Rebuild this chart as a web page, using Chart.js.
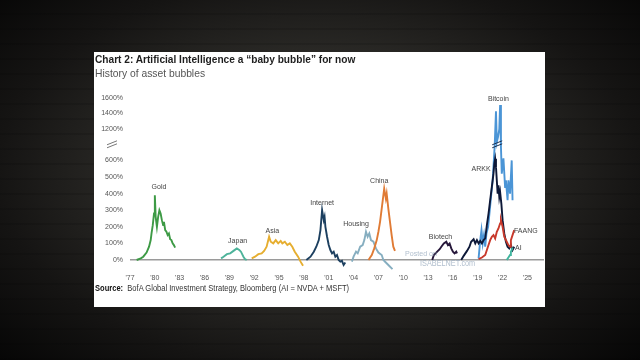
<!DOCTYPE html>
<html>
<head>
<meta charset="utf-8">
<script src="https://cdn.jsdelivr.net/npm/chart.js@4.4.1/dist/chart.umd.min.js"></script>
<style>
html, body { margin: 0; padding: 0; }
body {
    width: 640px; height: 360px; overflow: hidden; position: relative;
    background:
        repeating-linear-gradient(0deg, rgba(0,0,0,0.12) 0 2px, transparent 2px 15px),
        radial-gradient(ellipse 72% 78% at 50% 48%, #3a3835 0%, #2a2926 42%, #151413 70%, #040404 100%);
}
#panel { position: absolute; left: 94px; top: 52px; width: 451px; height: 255px; background: #fff; }
#chart { position: absolute; left: 0; top: 0; }
.txt { position: absolute; white-space: nowrap; transform-origin: 0 50%; font-family: 'Liberation Sans', Arial, sans-serif; }
#title { left: 95px; top: 53px; font-size: 11.5px; line-height: 12px; font-weight: bold; color: #1e1e1e; }
#subtitle { left: 95px; top: 67px; font-size: 10.5px; line-height: 12px; color: #555; }
#source { left: 95px; top: 283px; font-size: 8.5px; line-height: 10px; color: #333; }
#source b { color: #111; }
.mark { color: rgba(150, 168, 188, 0.75); font-size: 8px; line-height: 9px; }
</style>
</head>
<body>
<div id="panel"></div>
<canvas id="chart" width="640" height="360"></canvas>
<div class="txt" id="title">Chart 2: Artificial Intelligence a “baby bubble” for now</div>
<div class="txt" id="subtitle">History of asset bubbles</div>
<div class="txt" id="source"><b>Source:</b>&nbsp; BofA Global Investment Strategy, Bloomberg (AI = NVDA + MSFT)</div>
<div class="txt mark" id="posted" style="left:405px; top:249px;">Posted on</div>
<div class="txt mark" id="isabel" style="left:420px; top:259px; font-size:8.5px;">ISABELNET.com</div>
<script>
// Bubble series: years and % gain
const goldYears = [1977.8, 1978.3, 1978.6, 1979.0, 1979.3, 1979.5, 1979.6, 1979.75, 1979.9, 1980.0, 1980.1, 1980.25, 1980.4, 1980.55, 1980.7, 1980.85, 1981.0, 1981.1, 1981.25, 1981.4, 1981.55, 1981.7, 1981.85, 1982.0, 1982.15, 1982.3, 1982.45];
const goldValues = [0, 10, 20, 45, 80, 120, 160, 210, 280, 390, 260, 200, 260, 300, 280, 240, 210, 230, 180, 170, 150, 160, 125, 120, 100, 90, 75];

const japanYears = [1988.0, 1988.3, 1988.7, 1989.1, 1989.5, 1989.9, 1990.2, 1990.4, 1990.7, 1990.9, 1991.1];
const japanValues = [10, 20, 35, 40, 55, 70, 60, 50, 20, 5, 0];

const asiaYears = [1991.7, 1992.1, 1992.5, 1992.9, 1993.2, 1993.5, 1993.7, 1993.8, 1994.0, 1994.3, 1994.6, 1994.9, 1995.2, 1995.4, 1995.7, 1996.0, 1996.3, 1996.6, 1996.9, 1997.3, 1997.6, 1997.9];
const asiaValues = [10, 20, 35, 40, 55, 80, 120, 140, 110, 100, 120, 100, 115, 100, 110, 90, 100, 80, 50, 20, -10, -35];

const internetYears = [1998.3, 1998.8, 1999.2, 1999.5, 1999.8, 2000.0, 2000.1, 2000.2, 2000.4, 2000.5, 2000.6, 2000.8, 2001.0, 2001.2, 2001.4, 2001.6, 2001.8, 2002.0, 2002.2, 2002.4, 2002.6, 2002.8, 2003.0];
const internetValues = [0, 20, 50, 80, 120, 180, 240, 300, 240, 260, 200, 140, 90, 60, 40, 50, 20, 30, 0, -10, -5, -30, -15];

const housingYears = [2003.8, 2004.0, 2004.3, 2004.5, 2004.8, 2005.1, 2005.3, 2005.5, 2005.7, 2005.9, 2006.1, 2006.4, 2006.7, 2007.0, 2007.4, 2007.6, 2007.9, 2008.2, 2008.7];
const housingValues = [-10, 20, 50, 40, 80, 90, 120, 170, 140, 160, 120, 110, 70, 45, 30, 0, -15, -30, -55];

const chinaYears = [2005.8, 2006.2, 2006.5, 2006.8, 2007.0, 2007.2, 2007.4, 2007.6, 2007.7, 2007.9, 2008.0, 2008.2, 2008.4, 2008.6, 2008.8, 2009.0];
const chinaValues = [0, 30, 70, 120, 170, 230, 310, 390, 430, 370, 400, 310, 230, 150, 80, 55];

const biotechYears = [2013.5, 2013.7, 2014.1, 2014.4, 2014.6, 2014.9, 2015.2, 2015.4, 2015.6, 2015.8, 2016.0, 2016.2, 2016.4, 2016.5];
const biotechValues = [0, 30, 50, 65, 80, 100, 110, 90, 100, 70, 50, 40, 50, 40];

const arkkYears = [2017.0, 2017.3, 2017.7, 2018.0, 2018.2, 2018.5, 2018.7, 2018.9, 2019.1, 2019.3, 2019.5, 2019.7, 2019.9, 2020.1, 2020.3, 2020.5, 2020.7, 2020.9, 2021.0, 2021.1, 2021.2, 2021.3, 2021.4, 2021.5, 2021.6, 2021.7, 2021.85, 2022.0, 2022.2, 2022.4, 2022.6, 2022.8, 2023.0, 2023.2, 2023.4];
const arkkValues = [0, 25, 55, 80, 110, 125, 100, 120, 100, 115, 100, 120, 130, 210, 280, 360, 440, 520, 580, 630, 560, 480, 400, 450, 380, 410, 340, 240, 160, 110, 80, 70, 90, 60, 80];

const bitcoinYears = [2019.1, 2019.3, 2019.45, 2019.6, 2019.75, 2019.9, 2020.05, 2020.25, 2020.45, 2020.6, 2020.8, 2020.95, 2021.05, 2021.2, 2021.3, 2021.45, 2021.6, 2021.7, 2021.8, 2021.9, 2022.1, 2022.3, 2022.4, 2022.6, 2022.7, 2022.9, 2023.1, 2023.2];
const bitcoinValues = [10, 120, 180, 100, 150, 80, 160, 200, 300, 380, 480, 620, 900, 1430, 950, 1050, 1200, 1510, 860, 520, 640, 440, 480, 360, 480, 400, 600, 360];

const faangYears = [2019.1, 2019.5, 2019.9, 2020.1, 2020.3, 2020.5, 2020.7, 2020.9, 2021.1, 2021.3, 2021.5, 2021.7, 2021.8, 2022.0, 2022.2, 2022.5, 2022.7, 2022.9, 2023.0, 2023.2, 2023.4];
const faangValues = [5, 15, 30, 60, 90, 120, 140, 150, 130, 170, 190, 220, 240, 200, 140, 110, 90, 80, 120, 150, 180];

const aiYears = [2022.5, 2022.7, 2022.9, 2023.0, 2023.1, 2023.2];
const aiValues = [0, 15, 30, 50, 60, 75];

// Axis ticks
const xTickYears = [1977, 1980, 1983, 1986, 1989, 1992, 1995, 1998, 2001, 2004, 2007, 2010, 2013, 2016, 2019, 2022, 2025];
const yTickValues = [0, 100, 200, 300, 400, 500, 600, 1200, 1400, 1600];

// Bubble name labels, placed in chart units (year, %)
const bubbleNames = ['Gold', 'Japan', 'Asia', 'Internet', 'Housing', 'China', 'Biotech', 'ARKK', 'Bitcoin', 'FAANG', 'AI'];
const labelYears = [1980.5, 1990.0, 1994.2, 2000.2, 2004.3, 2007.1, 2014.5, 2019.4, 2021.5, 2024.8, 2023.9];
const labelValues = [440, 113, 173, 345, 217, 476, 140, 546, 1590, 177, 70];

// Broken y axis: 0-600% full scale, 600-1200% squeezed through the break, 1200%+ compressed
function toDisplay(v) {
    if (v <= 600) return v / 100;
    if (v <= 1200) return 6 + (v - 600) / 600 * 1.89;
    return 7.89 + (v - 1200) * 0.004675;
}
const BREAK_AT = 7.0;

function series(label, years, values, color) {
    return {
        label: label,
        data: years.map((x, i) => ({ x: x, y: toDisplay(values[i]) })),
        borderColor: color,
        borderWidth: 1.9,
        pointRadius: 0,
        tension: 0,
        clip: false
    };
}

const labelPlugin = {
    id: 'bubbleLabels',
    afterDatasetsDraw(chart) {
        const ctx = chart.ctx;
        const xs = chart.scales.x, ys = chart.scales.y;
        ctx.save();
        ctx.font = '7px "Liberation Sans", Arial, sans-serif';
        ctx.fillStyle = '#444';
        ctx.textAlign = 'center';
        ctx.textBaseline = 'middle';
        bubbleNames.forEach((name, i) => {
            ctx.fillText(name, xs.getPixelForValue(labelYears[i]), ys.getPixelForValue(toDisplay(labelValues[i])));
        });

        // axis break marks, and the same marks across the Bitcoin spike
        const yb = ys.getPixelForValue(BREAK_AT);
        const drawBreak = (cx, color) => {
            ctx.strokeStyle = color;
            ctx.lineWidth = 1;
            ctx.beginPath();
            ctx.moveTo(cx - 5, yb + 1); ctx.lineTo(cx + 5, yb - 3);
            ctx.moveTo(cx - 5, yb + 4); ctx.lineTo(cx + 5, yb);
            ctx.stroke();
        };
        drawBreak(xs.left - 18, '#777');
        drawBreak(xs.getPixelForValue(2021.35), '#1c3050');
        ctx.restore();
    }
};

new Chart(document.getElementById('chart'), {
    type: 'line',
    data: {
        datasets: [
            series('AI', aiYears, aiValues, '#3fb59e'),
            series('FAANG', faangYears, faangValues, '#c8392b'),
            series('ARKK', arkkYears, arkkValues, '#0d1838'),
            series('Bitcoin', bitcoinYears, bitcoinValues, '#4b95d6'),
            series('Biotech', biotechYears, biotechValues, '#26173a'),
            series('China', chinaYears, chinaValues, '#e07b35'),
            series('Housing', housingYears, housingValues, '#86aec0'),
            series('Internet', internetYears, internetValues, '#1c3f5f'),
            series('Asia', asiaYears, asiaValues, '#e6ae30'),
            series('Japan', japanYears, japanValues, '#4db39a'),
            series('Gold', goldYears, goldValues, '#3d9a45')
        ]
    },
    options: {
        responsive: false,
        animation: false,
        layout: { padding: { left: 94, right: 96, top: 94, bottom: 75.85 } },
        plugins: {
            legend: { display: false },
            tooltip: { enabled: false }
        },
        scales: {
            x: {
                type: 'linear',
                min: 1977,
                max: 2027,
                afterBuildTicks: s => { s.ticks = xTickYears.map(v => ({ value: v })); },
                afterFit: s => { s.height = 20; },
                ticks: {
                    autoSkip: false,
                    maxRotation: 0,
                    padding: 2,
                    color: '#555',
                    font: { family: '"Liberation Sans", Arial, sans-serif', size: 7 },
                    callback: v => "'" + String(v).slice(2)
                },
                grid: { display: false },
                border: { display: false }
            },
            y: {
                min: -0.25,
                max: 10,
                afterBuildTicks: s => { s.ticks = yTickValues.map(v => ({ value: toDisplay(v) })); },
                afterFit: s => { s.width = 36; },
                ticks: {
                    autoSkip: false,
                    padding: 7,
                    color: '#555',
                    font: { family: '"Liberation Sans", Arial, sans-serif', size: 7 },
                    callback: (v, i) => yTickValues[i] + '%'
                },
                grid: {
                    drawTicks: false,
                    lineWidth: 1.5,
                    color: c => (c.tick && c.tick.value === 0) ? '#9a9a9a' : 'transparent'
                },
                border: { display: false }
            }
        }
    },
    plugins: [labelPlugin]
});

// squeeze the condensed-looking headings to the widths in the picture
function fitText(id, width) {
    const el = document.getElementById(id);
    el.style.transform = 'scaleX(' + (width / el.offsetWidth) + ')';
}
fitText('title', 260);
fitText('subtitle', 110);
fitText('source', 254);
fitText('posted', 32);
fitText('isabel', 55);
</script>
</body>
</html>
